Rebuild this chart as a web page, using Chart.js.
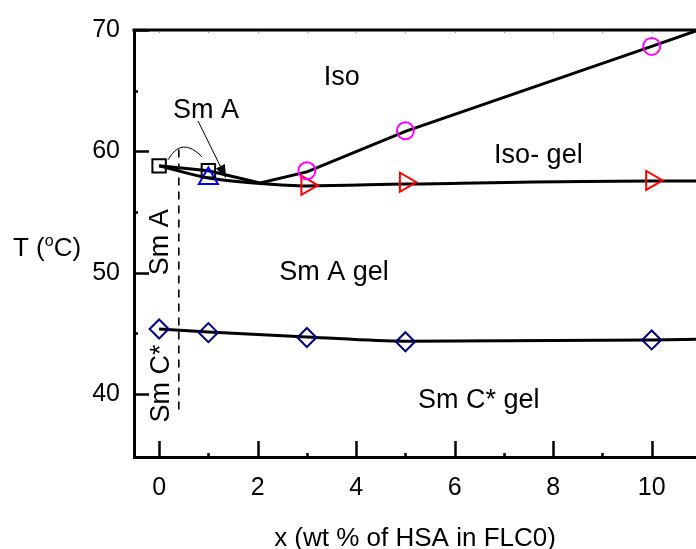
<!DOCTYPE html>
<html>
<head>
<meta charset="utf-8">
<script src="https://cdn.jsdelivr.net/npm/chart.js@4/dist/chart.umd.min.js"></script>
<style>
  html, body { margin: 0; padding: 0; background: #fff; }
  #wrap { width: 696px; height: 549px; }
</style>
</head>
<body>
<div id="wrap"><canvas id="c" width="696" height="549"></canvas></div>
<script>
// ---- data ----
const xTicks = [0, 2, 4, 6, 8, 10];
const yTicks = [40, 50, 60, 70];

// measured transition points
const squareX = [0, 1];
const squareY = [58.8, 58.4];
const triUpX = [1];
const triUpY = [57.75];
const circleX = [3, 5, 10];
const circleY = [58.4, 61.7, 68.65];
const triRightX = [3, 5, 10];
const triRightY = [57.2, 57.45, 57.6];
const diamondX = [0, 1, 3, 5, 10];
const diamondY = [45.35, 45.05, 44.65, 44.3, 44.45];

// phase boundary lines
const isoLineX = [0, 1, 2.05, 3, 5, 10, 10.95];
const isoLineY = [58.8, 58.4, 57.4, 58.3, 61.65, 68.65, 70.0];
const gelLineX = [0, 1, 2.05, 3, 5, 10, 10.95];
const gelLineY = [58.8, 57.8, 57.35, 57.15, 57.3, 57.55, 57.55];
const scLineX = [0, 1, 3, 5, 10, 10.95];
const scLineY = [45.35, 45.1, 44.7, 44.35, 44.45, 44.5];

// region labels: text, x, y (data coords, baseline)
const labelTexts = ["Iso", "Sm A", "Iso- gel", "Sm A gel", "Sm C* gel"];
const labelX = [3.71, 0.95, 7.7, 3.55, 6.49];
const labelY = [65.45, 62.75, 59.05, 49.4, 38.85];
// vertical labels
const vLabelTexts = ["Sm A", "Sm C*"];
const vLabelX = [0.19, 0.2];
const vLabelY = [52.5, 40.85];
// dashed boundary at x = 0.4
const dashX = [0.4, 0.4];
const dashY = [60.15, 38.7];
// arc (start, peak, end) and arrow (from, to)
const arcX = [0.18, 0.49, 0.87];
const arcY = [59.3, 60.35, 59.55];
const arrowX = [0.79, 1.36];
const arrowY = [62.5, 57.8];

const pts = (xs, ys) => xs.map((x, i) => ({x: x, y: ys[i]}));
const FONT = "'Liberation Sans', Arial, sans-serif";

const overlay = {
  id: 'overlay',
  afterDatasetsDraw(chart) {
    const ctx = chart.ctx, a = chart.chartArea;
    const xs = chart.scales.x, ys = chart.scales.y;
    const px = v => xs.getPixelForValue(v), py = v => ys.getPixelForValue(v);
    ctx.save();
    ctx.strokeStyle = '#000';
    ctx.fillStyle = '#000';
    // top border
    ctx.lineWidth = 3;
    ctx.beginPath(); ctx.moveTo(a.left - 1.5, a.top); ctx.lineTo(a.right, a.top); ctx.stroke();
    // ticks (inward)
    ctx.lineWidth = 2.5;
    for (let v = 0; v <= 10; v++) {
      const x = Math.round(px(v)) + 0.5;
      const len = (v % 2 === 0) ? 16 : 4;
      ctx.beginPath(); ctx.moveTo(x, a.bottom); ctx.lineTo(x, a.bottom - len); ctx.stroke();
    }
    for (let v = 40; v <= 70; v += 5) {
      const y = Math.round(py(v)) + 0.5;
      const len = (v % 10 === 0) ? 15 : 4;
      ctx.beginPath(); ctx.moveTo(a.left, y); ctx.lineTo(a.left + len, y); ctx.stroke();
    }
    // faint top minor ticks
    ctx.strokeStyle = '#999'; ctx.lineWidth = 1;
    for (let v = 0; v <= 10; v++) {
      const x = Math.round(px(v)) + 0.5;
      ctx.beginPath(); ctx.moveTo(x, a.top + 1.5); ctx.lineTo(x, a.top + 3); ctx.stroke();
    }
    ctx.strokeStyle = '#000';
    // dashed line
    ctx.lineWidth = 1.6;
    ctx.setLineDash([8, 6]);
    ctx.beginPath(); ctx.moveTo(px(dashX[0]), py(dashY[0])); ctx.lineTo(px(dashX[1]), py(dashY[1])); ctx.stroke();
    ctx.setLineDash([]);
    // arc
    ctx.lineWidth = 1;
    const p0 = [px(arcX[0]), py(arcY[0])], pk = [px(arcX[1]), py(arcY[1])], p2 = [px(arcX[2]), py(arcY[2])];
    const cx = 2 * pk[0] - 0.5 * (p0[0] + p2[0]), cy = 2 * pk[1] - 0.5 * (p0[1] + p2[1]);
    ctx.beginPath(); ctx.moveTo(p0[0], p0[1]); ctx.quadraticCurveTo(cx, cy, p2[0], p2[1]); ctx.stroke();
    // arrow
    const ax0 = px(arrowX[0]), ay0 = py(arrowY[0]), ax1 = px(arrowX[1]), ay1 = py(arrowY[1]);
    const ang = Math.atan2(ay1 - ay0, ax1 - ax0);
    const hl = 13, hw = 5;
    const bx = ax1 - hl * Math.cos(ang), by = ay1 - hl * Math.sin(ang);
    ctx.beginPath(); ctx.moveTo(ax0, ay0); ctx.lineTo(bx, by); ctx.stroke();
    ctx.beginPath();
    ctx.moveTo(ax1, ay1);
    ctx.lineTo(bx + hw * Math.sin(ang), by - hw * Math.cos(ang));
    ctx.lineTo(bx - hw * Math.sin(ang), by + hw * Math.cos(ang));
    ctx.closePath(); ctx.fill();
    // region labels
    ctx.font = '27px ' + FONT;
    ctx.textAlign = 'center';
    ctx.textBaseline = 'alphabetic';
    labelTexts.forEach((t, i) => ctx.fillText(t, px(labelX[i]), py(labelY[i])));
    vLabelTexts.forEach((t, i) => {
      ctx.save();
      ctx.translate(px(vLabelX[i]), py(vLabelY[i]));
      ctx.rotate(-Math.PI / 2);
      ctx.fillText(t, 0, 0);
      ctx.restore();
    });
    ctx.restore();
  },
  afterDraw(chart) {
    const ctx = chart.ctx, a = chart.chartArea;
    ctx.save();
    ctx.fillStyle = '#000';
    ctx.textBaseline = 'alphabetic';
    // x title
    ctx.font = '26px ' + FONT;
    ctx.textAlign = 'center';
    ctx.fillText('x (wt % of HSA in FLC0)', (a.left + a.right) / 2, 546);
    // y title T (oC)
    ctx.textAlign = 'left';
    let x = 13; const base = 256;
    ctx.font = '26px ' + FONT;
    ctx.fillText('T (', x, base); x += ctx.measureText('T (').width;
    ctx.font = '16px ' + FONT;
    ctx.fillText('o', x, base - 10); x += ctx.measureText('o').width;
    ctx.font = '26px ' + FONT;
    ctx.fillText('C)', x, base);
    ctx.restore();
  }
};

const lineDs = (xs, ys, mode) => ({
  data: pts(xs, ys), showLine: true, borderColor: '#000', borderWidth: 3,
  pointRadius: 0, pointHoverRadius: 0, tension: mode ? 0.4 : 0,
  cubicInterpolationMode: mode || 'default', fill: false
});
const markDs = (xs, ys, style, color, r, rot) => ({
  data: pts(xs, ys), showLine: false, pointStyle: style, pointRadius: r,
  pointRotation: rot || 0, pointBorderColor: color, pointBackgroundColor: 'rgba(0,0,0,0)',
  pointBorderWidth: 2, pointHoverRadius: r
});

new Chart(document.getElementById('c'), {
  type: 'scatter',
  data: {
    datasets: [
      markDs(squareX, squareY, 'rect', '#000', 9.5),
      markDs(triUpX, triUpY, 'triangle', '#0000ff', 11),
      markDs(circleX, circleY, 'circle', '#ff00ff', 8.5),
      markDs(triRightX, triRightY, 'triangle', '#ff0000', 11, 90),
      markDs(diamondX, diamondY, 'rectRot', '#000080', 9.5),
      lineDs(isoLineX, isoLineY),
      lineDs(gelLineX, gelLineY, 'monotone'),
      lineDs(scLineX, scLineY, 'monotone')
    ]
  },
  options: {
    responsive: false,
    animation: false,
    events: [],
    layout: { autoPadding: false, padding: { top: 30, left: 0, right: 0, bottom: 0 } },
    plugins: { legend: { display: false }, tooltip: { enabled: false } },
    scales: {
      x: {
        type: 'linear', min: -0.51, max: 10.9,
        afterFit: s => { s.height = 92; s.paddingLeft = 0; s.paddingRight = 0; },
        afterBuildTicks: s => { s.ticks = xTicks.map(v => ({value: v})); },
        grid: { display: false, drawTicks: false },
        border: { display: true, color: '#000', width: 3 },
        ticks: { color: '#000', font: { family: FONT, size: 25 }, padding: 16 }
      },
      y: {
        type: 'linear', min: 34.8, max: 70,
        afterFit: s => { s.width = 134; s.paddingTop = 0; s.paddingBottom = 0; },
        afterBuildTicks: s => { s.ticks = yTicks.map(v => ({value: v})); },
        grid: { display: false, drawTicks: false },
        border: { display: true, color: '#000', width: 3 },
        ticks: { color: '#000', font: { family: FONT, size: 25 }, padding: 14 }
      }
    }
  },
  plugins: [overlay]
});
</script>
</body>
</html>
